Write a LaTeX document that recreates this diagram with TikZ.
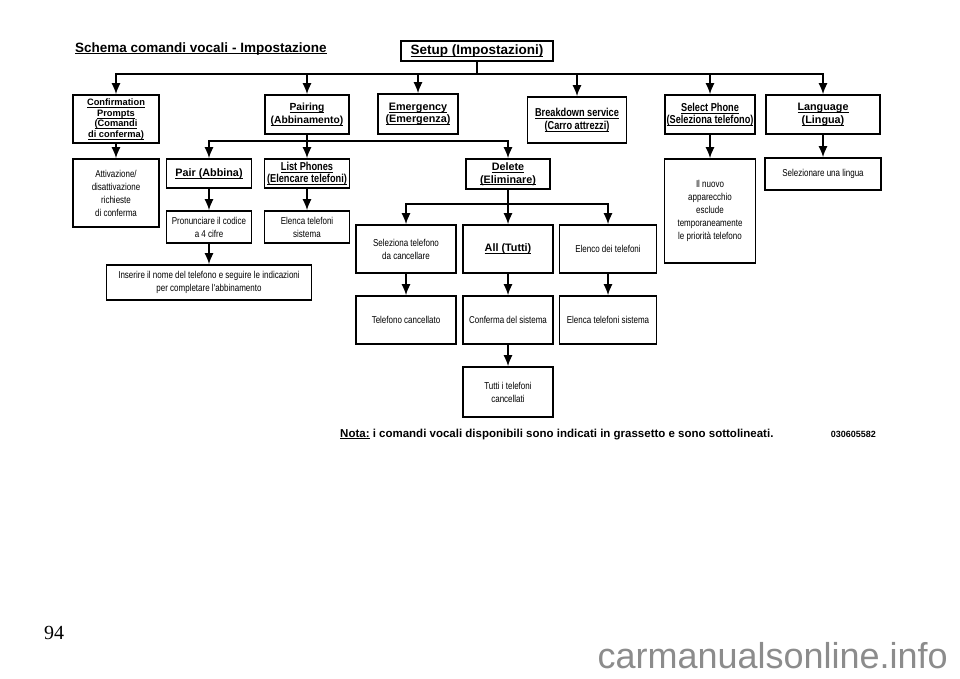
\documentclass[tikz,border=0pt]{standalone}
\usepackage{fontspec}
\setmainfont{Liberation Sans}
\newfontfamily\narrowfont[FakeStretch=0.8]{Liberation Sans}
\newfontfamily\pagefont{Liberation Serif}
\usepackage{tikz}
\usetikzlibrary{arrows.meta,positioning}
% underline that does not change the line depth
\newcommand{\uln}[1]{\setbox0\hbox{#1}\rlap{\smash{\rule[-2pt]{\wd0}{0.6pt}}}\box0\relax}

\tikzset{
	box/.style={draw, rectangle, line width=1.7pt, inner sep=0pt, align=center},
	dim/.style 2 args={minimum width=#1pt, minimum height=#2pt},
	head/.style={font=\fontsize{10.8}{12.5}\selectfont\bfseries},
	nhead/.style={font=\narrowfont\fontsize{11.5}{12.5}\selectfont\bfseries},
	body/.style={font=\narrowfont\fontsize{10}{13}\selectfont},
	arr/.style={-{Latex[length=11pt,width=9pt]}, line width=1.4pt},
	bus/.style={line width=1.4pt}
}

\begin{document}
\begin{tikzpicture}[x=1pt,y=-1pt]
	\path[use as bounding box, fill=white] (0,0) rectangle (960,678);
	
	% nodes
	\node[anchor=base west, inner sep=0, font=\fontsize{13.5}{16}\selectfont\bfseries] (titolo) at (75,52) 
	{\uln{Schema comandi vocali - Impostazione}};
	\node[box, dim={152}{20}, font=\fontsize{13.5}{16}\selectfont\bfseries] (setup) at (477,51) 
	{\uln{Setup (Impostazioni)}};
	
	\node[box, dim={86}{48}, font=\fontsize{9.3}{10.5}\selectfont\bfseries] (confirm) at (116,119) 
	{\uln{Confirmation}\\\uln{Prompts}\\\uln{(Comandi}\\\uln{di conferma)}};
	\node[box, head, dim={84}{39}, font=\fontsize{10.3}{12.5}\selectfont\bfseries] (pairing) at (307,114.5) 
	{\uln{Pairing}\\\uln{(Abbinamento)}};
	\node[box, head, dim={80}{40}] (emerg) at (418,114) {\uln{Emergency}\\\uln{(Emergenza)}};
	\node[box, nhead, dim={99}{46}] (breakd) at (577,120) {\uln{Breakdown service}\\\uln{(Carro attrezzi)}};
	\node[box, nhead, dim={90}{39}] (selphone) at (710,114.5) {\uln{Select Phone}\\\uln{(Seleziona telefono)}};
	\node[box, head, dim={114}{39}] (lang) at (823,114.5) {\uln{Language}\\\uln{(Lingua)}};
	
	\node[box, body, dim={86}{68}] (attiv) at (116,193) {Attivazione/\\disattivazione\\richieste\\di conferma};
	\node[box, head, dim={85}{29}] (pair) at (209,173.5) {\uln{Pair (Abbina)}};
	\node[box, nhead, dim={85}{29}] (listph) at (307,173.5) {\uln{List Phones}\\\uln{(Elencare telefoni)}};
	\node[box, head, dim={84}{30}] (delete) at (508,174) {\uln{Delete}\\\uln{(Eliminare)}};
	\node[box, body, dim={91}{104}] (nuovo) at (710,211) 
	{Il nuovo\\apparecchio\\esclude\\temporaneamente\\le priorit\`a telefono};
	\node[box, body, dim={116}{32}] (lingua) at (823,174) {Selezionare una lingua};
	
	\node[box, body, dim={85}{32}] (pronun) at (209,227) {Pronunciare il codice\\a 4 cifre};
	\node[box, body, dim={85}{32}] (elenca) at (307,227) {Elenca telefoni\\sistema};
	\node[box, body, dim={205}{35}] (inserire) at (209,282.5) 
	{Inserire il nome del telefono e seguire le indicazioni\\per completare l'abbinamento};
	
	\node[box, body, dim={100}{48}] (selez) at (406,249) {Seleziona telefono\\da cancellare};
	\node[box, head, dim={90}{48}] (all) at (508,249) {\uln{All (Tutti)}};
	\node[box, body, dim={97}{48}] (elenco) at (608,249) {Elenco dei telefoni};
	\node[box, body, dim={100}{48}] (telcanc) at (406,320) {Telefono cancellato};
	\node[box, body, dim={90}{48}] (conferma) at (508,320) {Conferma del sistema};
	\node[box, body, dim={97}{48}] (elencasis) at (608,320) {Elenca telefoni sistema};
	\node[box, body, dim={90}{50}] (tutti) at (508,392) {Tutti i telefoni\\cancellati};
	
	\node[anchor=base west, inner sep=0, font=\fontsize{11.5}{13}\selectfont\bfseries] (nota) at (340,437) 
	{\uln{Nota:} i comandi vocali disponibili sono indicati in grassetto e sono sottolineati.};
	\node[anchor=base east, inner sep=0, font=\fontsize{9}{11}\selectfont\bfseries] (codice) at (876,437) {030605582};
	\node[anchor=base west, inner sep=0, font=\pagefont\fontsize{20}{22}\selectfont] (pagina) at (44,639) {94};
	\node[anchor=base east, inner sep=0, text=black!45, font=\fontsize{36}{40}\selectfont] (marchio) at (948,668) 
	{carmanualsonline.info};
	
	% connections
	\coordinate (bussetup) at (477,74);
	\coordinate (buspair) at (307,141);
	\coordinate (busdelete) at (508,204);
	\draw[bus] (setup) -- (bussetup);
	\foreach \n in {confirm,pairing,emerg,breakd,selphone,lang}
	\draw[arr] (bussetup) -| (\n);
	\draw[bus] (pairing) -- (buspair);
	\foreach \n in {pair,listph,delete}
	\draw[arr] (buspair) -| (\n);
	\draw[bus] (delete) -- (busdelete);
	\foreach \n in {selez,all,elenco}
	\draw[arr] (busdelete) -| (\n);
	\draw[arr] (confirm) -- (attiv);
	\draw[arr] (pair) -- (pronun);
	\draw[arr] (pronun) -- (inserire);
	\draw[arr] (listph) -- (elenca);
	\draw[arr] (selez) -- (telcanc);
	\draw[arr] (all) -- (conferma);
	\draw[arr] (conferma) -- (tutti);
	\draw[arr] (elenco) -- (elencasis);
	\draw[arr] (selphone) -- (nuovo);
	\draw[arr] (lang) -- (lingua);
\end{tikzpicture}
\end{document}
